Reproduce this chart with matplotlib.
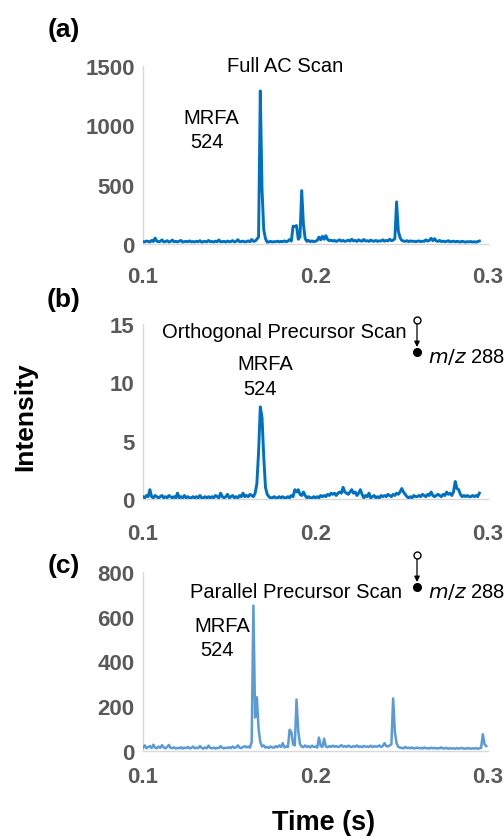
import numpy as np
import matplotlib
matplotlib.use("Agg")
import matplotlib.pyplot as plt
from matplotlib.lines import Line2D
from matplotlib.patches import FancyArrowPatch

plt.rcParams["font.family"] = ["Liberation Sans", "DejaVu Sans"]

W, H = 504, 837

# time grids (s)
t_ab = np.round(np.arange(196) * 0.001 + 0.1, 3)
t_c = np.round(np.arange(200) * 0.001 + 0.1, 3)

# (a) Full AC scan intensity
full_ac = [
    20, 18, 25, 22, 17, 30, 21, 50, 24, 19,
    22, 35, 18, 20, 28, 17, 21, 33, 19, 22,
    18, 24, 30, 17, 20, 22, 19, 26, 18, 21,
    17, 23, 19, 28, 16, 20, 22, 18, 30, 19,
    21, 17, 24, 19, 34, 18, 20, 22, 17, 25,
    19, 21, 28, 18, 22, 36, 19, 21, 24, 18,
    20, 26, 19, 38, 22, 25, 40, 60, 1290, 460,
    120, 45, 15, 18, 22, 17, 20, 19, 24, 18,
    22, 20, 26, 19, 24, 38, 25, 150, 148, 155,
    40, 60, 450, 165, 45, 22, 30, 20, 26, 19,
    24, 30, 58, 35, 65, 40, 70, 38, 28, 32,
    25, 30, 22, 28, 35, 24, 30, 22, 26, 33,
    24, 40, 26, 30, 22, 35, 27, 24, 38, 25,
    28, 22, 33, 25, 24, 30, 22, 27, 25, 35,
    24, 30, 26, 40, 28, 32, 45, 355, 110, 55,
    30, 25, 22, 28, 20, 26, 22, 24, 19, 23,
    26, 20, 24, 22, 35, 25, 30, 48, 28, 45,
    26, 22, 30, 20, 25, 19, 22, 28, 18, 21,
    24, 18, 22, 20, 17, 23, 19, 16, 20, 18,
    21, 17, 19, 16, 20, 25,
]

# (b) Orthogonal precursor scan intensity
ortho = [
    0.2, 0.1, 0.3, 0.2, 0.8, 0.2, 0.1, 0.3, 0.2, 0.1,
    0.2, 0.3, 0.1, 0.2, 0.1, 0.3, 0.2, 0.1, 0.2, 0.1,
    0.5, 0.1, 0.2, 0.1, 0.3, 0.1, 0.2, 0.1, 0.1, 0.2,
    0.1, 0.2, 0.1, 0.3, 0.1, 0.1, 0.2, 0.1, 0.2, 0.1,
    0.2, 0.1, 0.3, 0.2, 0.1, 0.5, 0.2, 0.1, 0.2, 0.4,
    0.1, 0.2, 0.3, 0.1, 0.2, 0.1, 0.3, 0.2, 0.5, 0.2,
    0.3, 0.2, 0.4, 0.3, 0.2, 0.5, 1.3, 4.0, 7.9, 7.0,
    3.6, 1.0, 0.4, 0.2, 0.1, 0.1, 0.2, 0.1, 0.1, 0.2,
    0.1, 0.2, 0.1, 0.1, 0.2, 0.1, 0.3, 0.2, 0.8, 0.6,
    0.8, 0.4, 0.3, 0.6, 0.3, 0.1, 0.2, 0.1, 0.1, 0.2,
    0.1, 0.2, 0.1, 0.3, 0.2, 0.3, 0.2, 0.4, 0.3, 0.5,
    0.4, 0.5, 0.3, 0.5, 0.6, 0.5, 1.0, 0.6, 0.5, 0.4,
    0.6, 0.8, 0.5, 0.6, 0.3, 0.5, 0.8, 0.4, 0.1, 0.3,
    0.2, 0.5, 0.1, 0.2, 0.3, 0.1, 0.2, 0.1, 0.3, 0.2,
    0.3, 0.2, 0.4, 0.3, 0.2, 0.4, 0.3, 0.5, 0.4, 0.6,
    0.9, 0.6, 0.4, 0.2, 0.1, 0.2, 0.1, 0.3, 0.2, 0.2,
    0.3, 0.2, 0.4, 0.3, 0.2, 0.4, 0.3, 0.6, 0.3, 0.2,
    0.3, 0.4, 0.3, 0.2, 0.4, 0.3, 0.6, 0.4, 0.5, 0.3,
    0.6, 1.5, 0.9, 0.8, 0.4, 0.2, 0.3, 0.2, 0.3, 0.2,
    0.2, 0.3, 0.2, 0.3, 0.2, 0.5,
]

# (c) Parallel precursor scan intensity
parallel = [
    15, 25, 12, 18, 22, 13, 28, 15, 12, 20,
    14, 26, 16, 12, 18, 27, 14, 13, 16, 11,
    14, 12, 17, 11, 15, 13, 18, 12, 14, 20,
    12, 15, 13, 22, 14, 11, 16, 12, 24, 14,
    12, 15, 11, 14, 13, 22, 14, 12, 15, 13,
    17, 13, 20, 14, 16, 25, 15, 13, 18, 22,
    16, 20, 15, 40, 650, 150, 240, 100, 40, 20,
    25, 15, 18, 14, 20, 16, 15, 22, 17, 25,
    18, 35, 16, 20, 18, 95, 85, 30, 25, 230,
    90, 30, 20, 17, 25, 18, 22, 16, 24, 18,
    20, 15, 60, 22, 18, 55, 20, 17, 22, 18,
    24, 19, 22, 18, 20, 26, 19, 22, 18, 24,
    20, 17, 22, 19, 25, 18, 21, 17, 23, 19,
    20, 18, 24, 17, 22, 19, 20, 25, 18, 22,
    35, 22, 20, 25, 30, 235, 85, 35, 18, 15,
    14, 12, 18, 13, 15, 12, 16, 11, 13, 15,
    12, 14, 11, 16, 12, 13, 11, 15, 12, 14,
    11, 13, 12, 16, 11, 12, 14, 10, 13, 11,
    12, 10, 13, 11, 12, 14, 10, 12, 11, 13,
    10, 12, 11, 13, 10, 12, 14, 75, 30, 22,
]

x_ticks = [0.1, 0.2, 0.3]
x_ticklabels = ["0.1", "0.2", "0.3"]
y_ticks_a = [0, 500, 1000, 1500]
y_ticks_b = [0, 5, 10, 15]
y_ticks_c = [0, 200, 400, 600, 800]


def fx(px):
    return px / W


def fy(py):
    return 1 - py / H


fig = plt.figure(figsize=(W / 100, H / 100), dpi=100)

# axes boxes in pixels: left, y of zero line, y of top tick
boxes = [(143, 245, 67), (143, 500, 325), (143, 752, 573)]
series = [(t_ab, full_ac, "#0070C0", 2.1, y_ticks_a, 16),
          (t_ab, ortho, "#0070C0", 2.1, y_ticks_b, 17),
          (t_c, parallel, "#5B9BD5", 1.8, y_ticks_c, 11)]

for (l, y0, y1), (t, y, col, lw, yt, xpad) in zip(boxes, series):
    ax = fig.add_axes([fx(l), fy(y0), fx(488 - l), (y0 - y1) / H])
    ax.plot(t, y, color=col, lw=lw)
    ax.set_xlim(0.1, 0.3)
    ax.set_ylim(yt[0], yt[-1])
    ax.set_xticks(x_ticks)
    ax.set_xticklabels(x_ticklabels)
    ax.set_yticks(yt)
    for s in ["top", "right"]:
        ax.spines[s].set_visible(False)
    for s in ["left", "bottom"]:
        ax.spines[s].set_color("#d9d9d9")
        ax.spines[s].set_linewidth(1.0)
        ax.spines[s].set_zorder(0)
    ax.tick_params(axis="both", length=0, labelsize=16, colors="#595959")
    ax.tick_params(axis="y", pad=6)
    ax.tick_params(axis="x", pad=xpad)
    for lab in ax.get_xticklabels() + ax.get_yticklabels():
        lab.set_fontweight("bold")

# panel letters
for lab, py in [("(a)", 30), ("(b)", 300), ("(c)", 566)]:
    fig.text(fx(64), fy(py), lab, fontsize=19, fontweight="bold",
             ha="center", va="center")

fig.text(fx(25), fy(417), "Intensity", fontsize=19, fontweight="bold",
         rotation=90, ha="center", va="center")
fig.text(fx(324), fy(823), "Time (s)", fontsize=19.5, fontweight="bold",
         ha="center", va="center")

# scan titles and peak labels
fs = 14.5
fig.text(fx(285), fy(66), "Full AC Scan", fontsize=fs, ha="center", va="center")
fig.text(fx(211), fy(118), "MRFA", fontsize=fs, ha="center", va="center")
fig.text(fx(207), fy(143), "524", fontsize=fs, ha="center", va="center")

fig.text(fx(284), fy(332), "Orthogonal Precursor Scan", fontsize=fs, ha="center", va="center")
fig.text(fx(265), fy(365), "MRFA", fontsize=fs, ha="center", va="center")
fig.text(fx(260), fy(390), "524", fontsize=fs, ha="center", va="center")

fig.text(fx(296), fy(592), "Parallel Precursor Scan", fontsize=fs, ha="center", va="center")
fig.text(fx(222), fy(627), "MRFA", fontsize=fs, ha="center", va="center")
fig.text(fx(217), fy(651), "524", fontsize=fs, ha="center", va="center")

# precursor -> fragment symbols
for top, bot, ty in [(321, 353, 357), (556, 588, 592)]:
    fig.add_artist(Line2D([fx(417)], [fy(top)], marker="o", ms=5, mfc="white",
                          mec="black", mew=1.0, transform=fig.transFigure))
    fig.add_artist(Line2D([fx(417)], [fy(bot)], marker="o", ms=5.5, mfc="black",
                          mec="black", transform=fig.transFigure))
    fig.add_artist(FancyArrowPatch(
        (fx(417), fy(top + 4)), (fx(417), fy(bot - 5)),
        transform=fig.transFigure, arrowstyle="-|>", mutation_scale=8,
        color="black", lw=0.9, shrinkA=0, shrinkB=0))
    fig.text(fx(428), fy(ty), r"$\it{m/z}$ 288", fontsize=fs, ha="left", va="center")

fig.savefig("out.png", dpi=100)
